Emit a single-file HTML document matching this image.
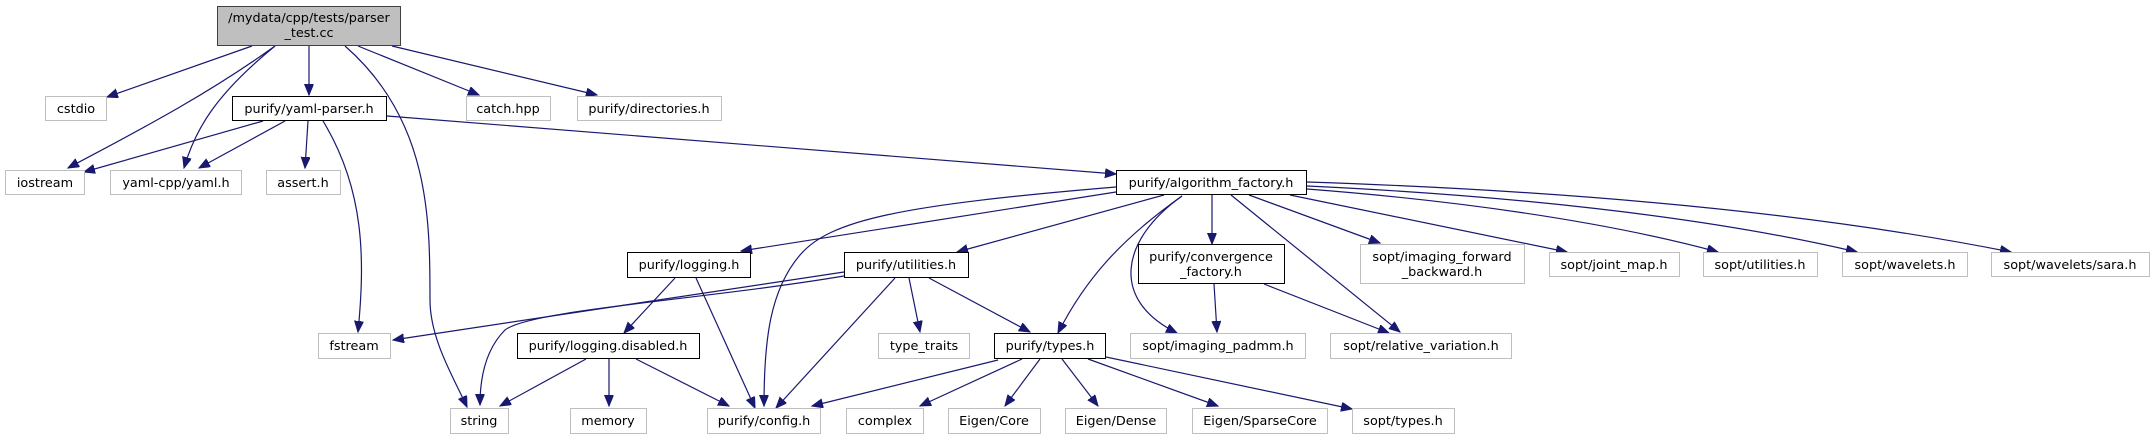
<!DOCTYPE html>
<html><head><meta charset="utf-8"><style>
html,body{margin:0;padding:0;background:#fff;width:2155px;height:440px;overflow:hidden}
svg text{font-family:"DejaVu Sans","Liberation Sans",sans-serif;font-size:12.8px;fill:#000}
</style></head><body>
<svg width="2155" height="440" viewBox="0 0 2155 440" xmlns="http://www.w3.org/2000/svg">
<defs>
<marker id="a" markerUnits="userSpaceOnUse" markerWidth="12" markerHeight="10" refX="11" refY="4.5" orient="auto">
<path d="M0,0 L11,4.5 L0,9 z" fill="#191970" stroke="#191970"/>
</marker>
</defs>
<g fill="none" stroke="#191970" stroke-width="1.2" marker-end="url(#a)">
<path d="M252,46 L107,97"/>
<path d="M275,46 C200,100 120,140 68,168"/>
<path d="M275,46 C215,95 195,130 184,168"/>
<path d="M309,46 L309,95"/>
<path d="M345,46 C430,120 430,220 430,300 C430,340 455,380 467,407"/>
<path d="M358,46 L479,95"/>
<path d="M392,46 L597,95"/>
<path d="M263,121 L84,172"/>
<path d="M285,121 L199,168"/>
<path d="M308,121 L305,168"/>
<path d="M323,121 C365,190 365,260 358,332"/>
<path d="M387,116 L1116,174"/>
<path d="M1116,192 L741,251"/>
<path d="M1116,187 C900,205 830,220 800,255 C770,290 764,340 764,406"/>
<path d="M1164,195 L957,252"/>
<path d="M1182,196 C1120,240 1085,280 1058,333"/>
<path d="M1182,196 C1120,240 1110,300 1177,333"/>
<path d="M1212,195 L1212,244"/>
<path d="M1231,195 L1400,332"/>
<path d="M1249,195 L1380,243"/>
<path d="M1290,195 L1567,252"/>
<path d="M1307,189 C1450,200 1600,220 1718,252"/>
<path d="M1307,186 C1500,195 1700,215 1857,252"/>
<path d="M1307,182 C1550,190 1800,210 2011,252"/>
<path d="M675,278 L624,333"/>
<path d="M696,278 L755,408"/>
<path d="M844,272 L393,340"/>
<path d="M844,276 C700,300 530,310 505,330 C485,350 480,380 480,405"/>
<path d="M895,278 L776,408"/>
<path d="M909,278 L920,332"/>
<path d="M929,278 L1030,332"/>
<path d="M1214,284 L1217,332"/>
<path d="M1264,284 L1389,333"/>
<path d="M998,360 L812,406"/>
<path d="M1022,359 L920,406"/>
<path d="M1040,359 L1005,406"/>
<path d="M1062,359 L1098,406"/>
<path d="M1088,359 L1218,406"/>
<path d="M1106,357 L1352,409"/>
<path d="M586,359 L500,406"/>
<path d="M609,359 L609,406"/>
<path d="M636,359 L729,406"/>
</g>
<g stroke-width="1">
<rect x="217.5" y="6.5" width="183" height="39" fill="#bfbfbf" stroke="#404040"/>
<g fill="#fff" stroke="#bfbfbf">
<rect x="45.5" y="96.5" width="61" height="24"/>
<rect x="466.5" y="96.5" width="84" height="24"/>
<rect x="577.5" y="96.5" width="144" height="24"/>
<rect x="5.5" y="170.5" width="79" height="24"/>
<rect x="110.5" y="170.5" width="131" height="24"/>
<rect x="266.5" y="170.5" width="74" height="24"/>
<rect x="1360.5" y="244.5" width="164" height="39"/>
<rect x="1549.5" y="252.5" width="130" height="24"/>
<rect x="1703.5" y="252.5" width="114" height="24"/>
<rect x="1842.5" y="252.5" width="125" height="24"/>
<rect x="1991.5" y="252.5" width="158" height="24"/>
<rect x="318.5" y="333.5" width="72" height="25"/>
<rect x="878.5" y="333.5" width="91" height="25"/>
<rect x="1130.5" y="333.5" width="175" height="25"/>
<rect x="1330.5" y="333.5" width="181" height="25"/>
<rect x="450.5" y="408.5" width="58" height="25"/>
<rect x="570.5" y="408.5" width="76" height="25"/>
<rect x="707.5" y="408.5" width="113" height="25"/>
<rect x="846.5" y="408.5" width="77" height="25"/>
<rect x="948.5" y="408.5" width="92" height="25"/>
<rect x="1065.5" y="408.5" width="101" height="25"/>
<rect x="1192.5" y="408.5" width="135" height="25"/>
<rect x="1352.5" y="408.5" width="102" height="25"/>
</g>
<g fill="#fff" stroke="#000">
<rect x="232.5" y="96.5" width="154" height="24"/>
<rect x="1116.5" y="170.5" width="190" height="24"/>
<rect x="627.5" y="252.5" width="123" height="25"/>
<rect x="844.5" y="252.5" width="124" height="25"/>
<rect x="1138.5" y="244.5" width="146" height="39"/>
<rect x="517.5" y="333.5" width="182" height="25"/>
<rect x="994.5" y="333.5" width="111" height="25"/>
</g>
</g>
<g text-anchor="middle">
<text x="309" y="22">/mydata/cpp/tests/parser</text>
<text x="309" y="37">_test.cc</text>
<text x="76" y="113">cstdio</text>
<text x="309" y="113">purify/yaml-parser.h</text>
<text x="508" y="113">catch.hpp</text>
<text x="649" y="113">purify/directories.h</text>
<text x="45" y="187">iostream</text>
<text x="176" y="187">yaml-cpp/yaml.h</text>
<text x="303" y="187">assert.h</text>
<text x="1211" y="187">purify/algorithm_factory.h</text>
<text x="689" y="269">purify/logging.h</text>
<text x="906" y="269">purify/utilities.h</text>
<text x="1211" y="261">purify/convergence</text>
<text x="1211" y="276">_factory.h</text>
<text x="1442" y="261">sopt/imaging_forward</text>
<text x="1442" y="276">_backward.h</text>
<text x="1614" y="269">sopt/joint_map.h</text>
<text x="1760" y="269">sopt/utilities.h</text>
<text x="1905" y="269">sopt/wavelets.h</text>
<text x="2070" y="269">sopt/wavelets/sara.h</text>
<text x="354" y="350">fstream</text>
<text x="608" y="350">purify/logging.disabled.h</text>
<text x="924" y="350">type_traits</text>
<text x="1050" y="350">purify/types.h</text>
<text x="1218" y="350">sopt/imaging_padmm.h</text>
<text x="1421" y="350">sopt/relative_variation.h</text>
<text x="479" y="425">string</text>
<text x="608" y="425">memory</text>
<text x="764" y="425">purify/config.h</text>
<text x="885" y="425">complex</text>
<text x="994" y="425">Eigen/Core</text>
<text x="1116" y="425">Eigen/Dense</text>
<text x="1260" y="425">Eigen/SparseCore</text>
<text x="1403" y="425">sopt/types.h</text>
</g>
</svg>
</body></html>
